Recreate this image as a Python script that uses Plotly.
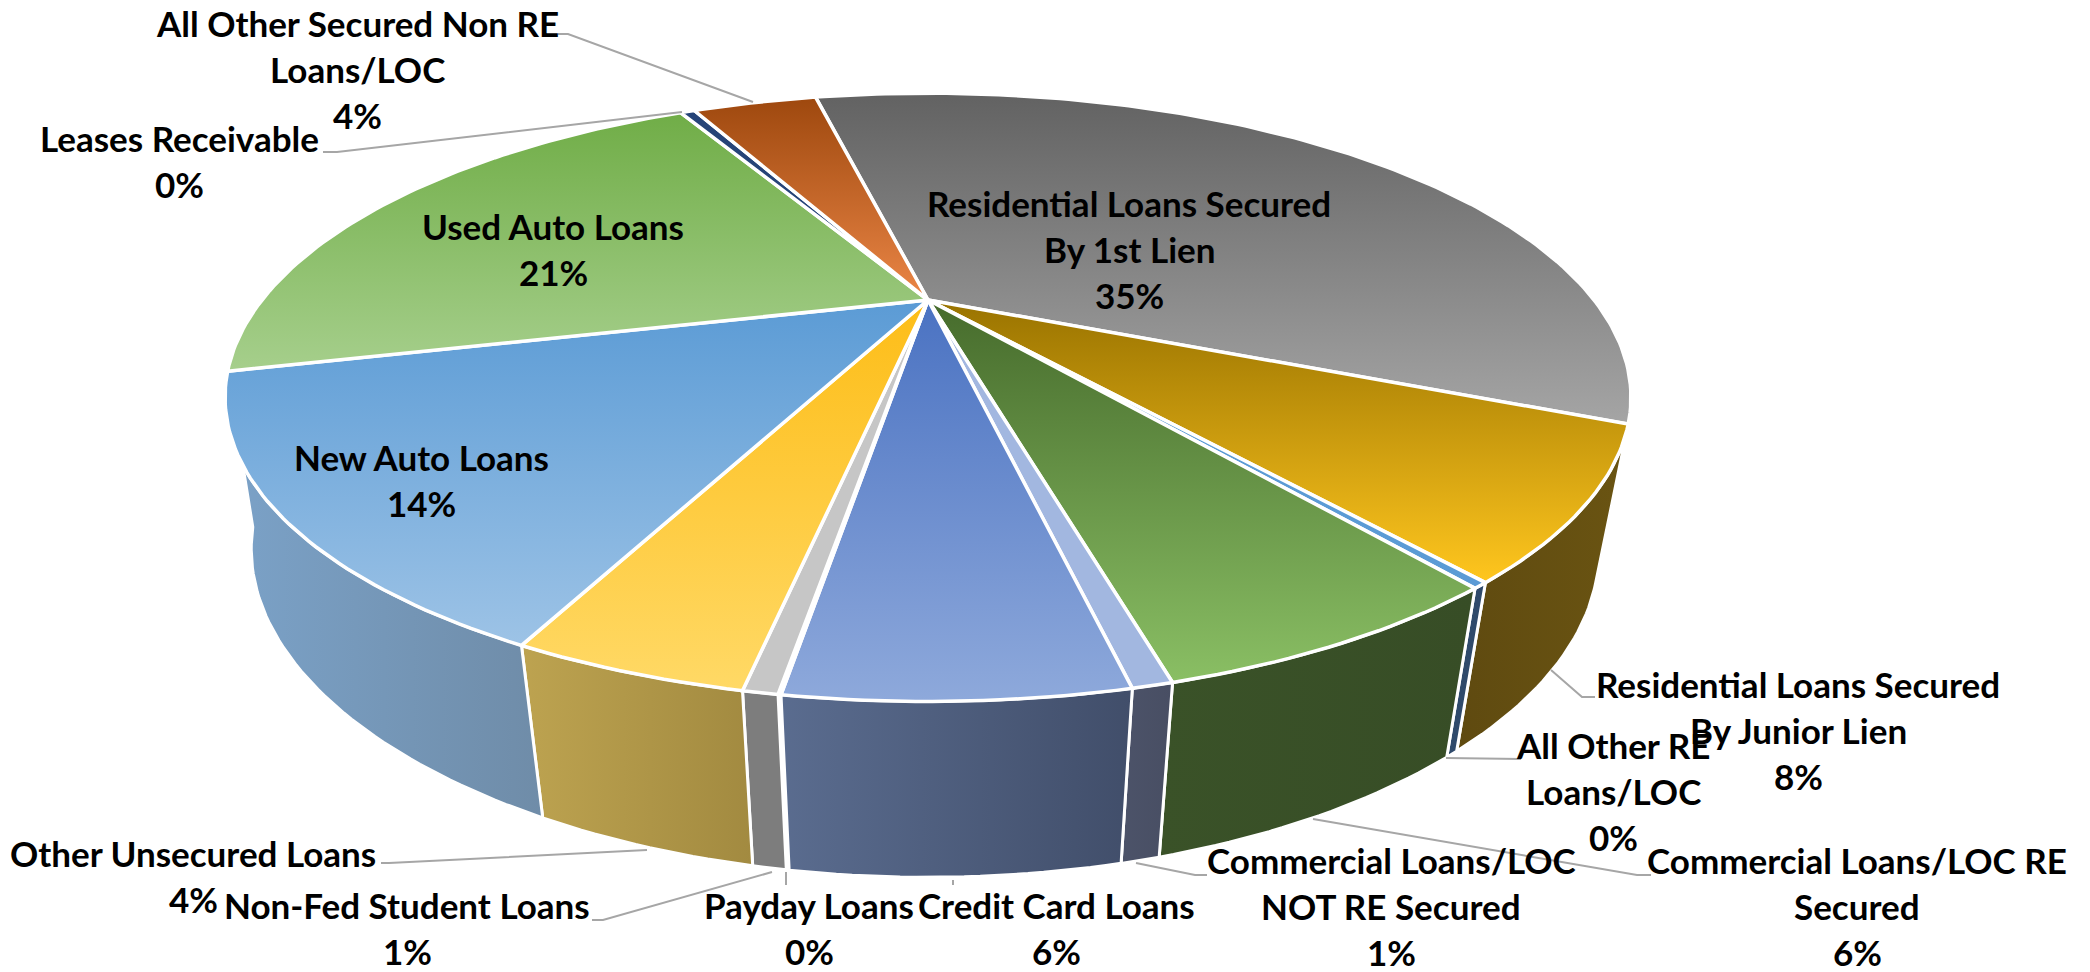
import numpy as np
import plotly.graph_objects as go

# ---- data ----
categories = ["Residential Loans Secured<br>By 1st Lien", "Residential Loans Secured<br>By Junior Lien",
              "All Other RE<br>Loans/LOC", "Commercial Loans/LOC RE<br>Secured",
              "Commercial Loans/LOC<br>NOT RE Secured", "Credit Card Loans", "Payday Loans",
              "Non-Fed Student Loans", "Other Unsecured Loans", "New Auto Loans", "Used Auto Loans",
              "Leases Receivable", "All Other Secured Non RE<br>Loans/LOC"]
values = [35.1, 7.7, 0.3, 6.45, 0.7, 5.8, 0.05, 0.6, 4.1, 14.0, 21.0, 0.45, 3.9]
top_dark = ["#626262", "#997300", "#5b9bd5", "#466b2c", "#a2b7e0", "#4a72c2", "#7f7f7f", "#c6c6c6",
            "#fdbd17", "#5b9bd5", "#70ad47", "#264478", "#9e480e"]
top_light = ["#a5a5a5", "#ffc61e", "#5b9bd5", "#8abf64", "#a2b7e0", "#8ea9db", "#7f7f7f", "#c6c6c6",
             "#ffd966", "#9dc3e6", "#a6cf8c", "#264478", "#eb8646"]
wall_left = ["#636363", "#5f4a10", "#2f4a6b", "#3a5228", "#4c5369", "#5a6c8f", "#7f7f7f", "#7d7d7d",
             "#bda350", "#7ba2c8", "#70ad47", "#264478", "#9e480e"]
wall_right = ["#636363", "#6a5412", "#2f4a6b", "#374d26", "#484e63", "#414e6a", "#7f7f7f", "#7d7d7d",
              "#a28a40", "#6f8ca8", "#70ad47", "#264478", "#9e480e"]
percent_labels = ["35%", "8%", "0%", "6%", "1%", "6%", "0%", "1%", "4%", "14%", "21%", "0%", "4%"]

# ---- view of the tilted disc ----
W, H = 2090, 972
CX, CY = 928.0, 300.0
A, B, K = 666.0, 273.0, 0.32
START_DEG = -12.8
BY0, BY1, BSLOPE = 588.0, 757.0, 1.06
S_FRONT, S_LEFT, S_RIGHT = 0.945, 0.964, 0.955


def project(theta):
    px = np.sin(theta)
    py = -np.cos(theta)
    w = 1 - K * py
    return CX + A * px / w, CY + B * py / w


def lower(x, y):
    side = np.where(x < CX, S_LEFT, S_RIGHT)
    s = S_FRONT + (side - S_FRONT) * (690.0 - y) / (690.0 - 373.0)
    return CX + (x - CX) * s, BY1 + BSLOPE * (y - BY0)


total = sum(values)
edges = np.deg2rad(START_DEG + np.cumsum([0] + values) / total * 360.0)

fig = go.Figure()
# side walls first
for i in range(len(values)):
    mid = np.rad2deg((edges[i] + edges[i + 1]) / 2) % 360
    if not 90 < mid < 270 or values[i] < 0.1:
        continue
    n = max(3, int(np.rad2deg(edges[i + 1] - edges[i])) + 2)
    th = np.linspace(edges[i], edges[i + 1], n)
    xt, yt = project(th)
    xb, yb = lower(xt, yt)
    fig.add_trace(go.Scatter(
        x=np.r_[xt, xb[::-1], xt[0]], y=np.r_[yt, yb[::-1], yt[0]],
        mode="lines", fill="toself", line=dict(color="white", width=3),
        fillgradient=dict(type="horizontal", colorscale=[[0, wall_left[i]], [1, wall_right[i]]]),
        hoverinfo="skip", showlegend=False))
# top faces
for i in range(len(values)):
    n = max(3, int(np.rad2deg(edges[i + 1] - edges[i])) + 2)
    th = np.linspace(edges[i], edges[i + 1], n)
    xt, yt = project(th)
    fig.add_trace(go.Scatter(
        x=np.r_[CX, xt, CX], y=np.r_[CY, yt, CY],
        mode="lines", fill="toself", line=dict(color="white", width=3.5),
        fillgradient=dict(type="vertical", colorscale=[[0, top_light[i]], [1, top_dark[i]]]),
        hoverinfo="skip", showlegend=False))

# ---- label placement (layout only) ----
label_xy = [(1129, 249), (1798, 730), (1613, 791), (1857, 906), (1391, 906), (1056, 928), (809, 928),
            (407, 928), (193, 876), (421, 480), (553, 249), (179, 161), (357, 69)]
LINE_GAP = 46
leaders = [None,
           [(1551, 670), (1582, 697), (1595, 697)],
           [(1446, 758), (1521, 759)],
           [(1313, 819), (1637, 875), (1651, 875)],
           [(1136, 863), (1195, 875), (1207, 875)],
           [(953, 880), (953, 885)],
           [(786, 872), (786, 885)],
           [(772, 872), (603, 920), (592, 920)],
           [(647, 850), (389, 863), (381, 863)],
           None, None,
           [(682, 112), (337, 152), (323, 152)],
           [(753, 102), (568, 34), (558, 34)]]

annotations = []
for c, p, (x, y) in zip(categories, percent_labels, label_xy):
    lines = c.split("<br>") + [p]
    y0 = y - LINE_GAP * (len(lines) - 1) / 2
    for j, line in enumerate(lines):
        annotations.append(dict(x=x, y=y0 + j * LINE_GAP, xref="x", yref="y", text=f"<b>{line}</b>",
                                showarrow=False, align="center", xanchor="center", yanchor="middle",
                                font=dict(family="Lato", size=35, color="black")))
shapes = []
for pts in leaders:
    if pts:
        path = "M " + " L ".join(f"{x},{y}" for x, y in pts)
        shapes.append(dict(type="path", path=path, xref="x", yref="y",
                           line=dict(color="#a6a6a6", width=2)))

fig.update_layout(
    width=W, height=H, margin=dict(l=0, r=0, t=0, b=0),
    paper_bgcolor="white", plot_bgcolor="white", showlegend=False,
    xaxis=dict(range=[0, W], visible=False, fixedrange=True),
    yaxis=dict(range=[H, 0], visible=False, fixedrange=True),
    annotations=annotations, shapes=shapes)

fig.write_html("out.html", config=dict(displayModeBar=False),
               post_script="document.body.style.margin='0';document.body.style.overflow='hidden';")
